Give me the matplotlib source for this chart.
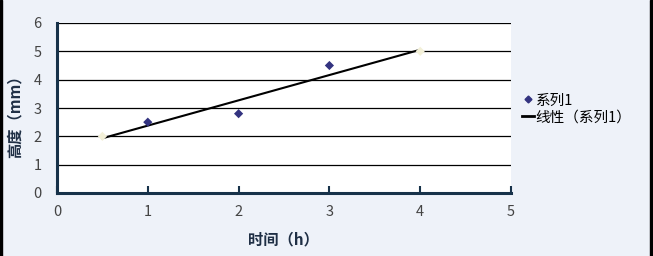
import numpy as np
import matplotlib
matplotlib.use("Agg")
import matplotlib.pyplot as plt
from matplotlib.patches import Rectangle
from matplotlib.lines import Line2D

plt.rcParams['font.family'] = ['Noto Sans CJK SC', 'DejaVu Sans']

time_h = [0.5, 1, 2, 3, 4]
height_mm = [2, 2.5, 2.8, 4.5, 5]
x_ticks = [0, 1, 2, 3, 4, 5]
y_ticks = [0, 1, 2, 3, 4, 5, 6]
series_name = "系列1"
trend_name = "线性（系列1）"
x_label = "时间（h）"
y_label = "高度（mm）"

W, H = 653, 256
fig = plt.figure(figsize=(W / 100, H / 100), dpi=100)
fig.patch.set_facecolor('#eef2f9')

# dark frame edges
fig.add_artist(Rectangle((0, 0), 2 / W, 1, transform=fig.transFigure, color='black', zorder=10))
fig.add_artist(Rectangle((1 - 3 / W, 0), 3 / W, 1, transform=fig.transFigure, color='black', zorder=10))

x0, x1 = 57, 511
y_top, y_bot = 23, 193
ax = fig.add_axes([x0 / W, 1 - y_bot / H, (x1 - x0) / W, (y_bot - y_top) / H])
ax.set_facecolor('white')
ax.set_xlim(0, 5)
ax.set_ylim(0, 6)

for y in y_ticks[1:]:
    ax.axhline(y, color='black', lw=0.9, zorder=1)

for s in ['top', 'right']:
    ax.spines[s].set_visible(False)
for s in ['left', 'bottom']:
    ax.spines[s].set_color('#17324a')
    ax.spines[s].set_linewidth(2.2)

ax.set_xticks(x_ticks)
ax.set_yticks(y_ticks)
ax.tick_params(axis='x', direction='in', length=5, width=1.5, color='#17324a',
               labelsize=10.5, labelcolor='#444444', pad=9)
ax.tick_params(axis='y', direction='in', length=0, labelsize=10.5, labelcolor='#444444', pad=11)

# trendline
coef = np.polyfit(time_h, height_mm, 1)
xt = np.array([min(time_h), max(time_h)])
ax.plot(xt, np.polyval(coef, xt), color='black', lw=1.5, zorder=3)

# points
cols = ['#f3f0d8' if (x == min(time_h) or x == max(time_h)) else '#333380' for x in time_h]
ax.scatter(time_h, height_mm, marker='D', s=22, c=cols, zorder=4, linewidths=0)

fig.text(283 / W, 1 - 239 / H, x_label, ha='center', va='center', fontsize=11,
         fontweight='bold', color='#1f2f45')
fig.text(15 / W, 1 - 113 / H, y_label, ha='center', va='center', fontsize=11,
         fontweight='bold', color='#1f2f45', rotation=90)

handles = [Line2D([], [], ls='none', marker='D', ms=3.5, color='#333380'),
           Line2D([], [], color='black', lw=2)]
fig.legend(handles, [series_name, trend_name], loc='center left',
           bbox_to_anchor=(516 / W, 1 - 109 / H), frameon=False, fontsize=10.5,
           handlelength=0.8, handletextpad=0.15, labelspacing=0.2, borderaxespad=0)

fig.savefig('out.png', dpi=100, facecolor=fig.get_facecolor())
